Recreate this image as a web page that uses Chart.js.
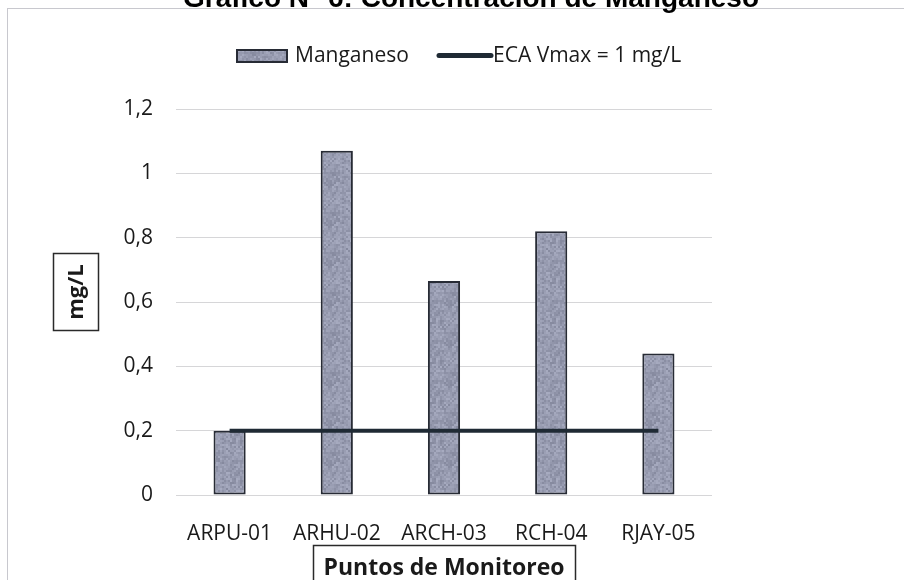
<!DOCTYPE html>
<html>
<head>
<meta charset="utf-8">
<script src="https://cdn.jsdelivr.net/npm/chart.js@4.4.1/dist/chart.umd.min.js"></script>
<style>
  html, body { margin: 0; padding: 0; background: #ffffff; }
  #wrap { width: 904px; height: 580px; position: relative; }
</style>
</head>
<body>
<div id="wrap"><canvas id="grafico" width="904" height="580"></canvas></div>
<script>
// Puntos de monitoreo y concentraciones de manganeso (mg/L)
const puntos = ['ARPU-01', 'ARHU-02', 'ARCH-03', 'RCH-04', 'RJAY-05'];
const manganeso = [0.2, 1.07, 0.665, 0.82, 0.44];
const ecaVmax = [0.2, 0.2, 0.2, 0.2, 0.2];
const nombreSerie = 'Manganeso';
const nombreLimite = 'ECA Vmax = 1 mg/L';
const tituloGrafico = 'Gráfico N° 6: Concentración de Manganeso';
const tituloEjeX = 'Puntos de Monitoreo';
const tituloEjeY = 'mg/L';

const FUENTE = '"Open Sans", "DejaVu Sans", sans-serif';
const TEXTO = '#1a1a1a';
const BORDE_BARRA = '#272b35';
const COLOR_LINEA = '#1f2a34';

// Relleno de barra con textura granulada (valores deterministas)
function rellenoGranulado() {
  const s = 40;
  const cv = document.createElement('canvas');
  cv.width = s; cv.height = s;
  const g = cv.getContext('2d');
  g.fillStyle = '#969ab0';
  g.fillRect(0, 0, s, s);
  for (let y = 0; y < s; y += 2) {
    for (let x = 0; x < s; x += 2) {
      const h = Math.sin(x * 12.9898 + y * 78.233) * 43758.5453;
      const d = Math.round(((h - Math.floor(h)) - 0.5) * 34);
      g.fillStyle = `rgb(${150 + d},${154 + d},${175 + d})`;
      g.fillRect(x, y, 2, 2);
    }
  }
  return g.createPattern(cv, 'repeat');
}
const relleno = rellenoGranulado();

function formatoTick(v) {
  const r = Math.round(v * 10) / 10;
  return String(r).replace('.', ',');
}

// Marco, título, leyenda y títulos de ejes recuadrados
const decoracion = {
  id: 'decoracion',
  beforeDraw(chart) {
    const ctx = chart.ctx;
    ctx.save();
    ctx.fillStyle = '#ffffff';
    ctx.fillRect(0, 0, chart.width, chart.height);
    ctx.strokeStyle = '#c8c8ce';
    ctx.lineWidth = 1;
    ctx.beginPath();
    ctx.moveTo(7, 8.5); ctx.lineTo(chart.width, 8.5);
    ctx.moveTo(7.5, 8); ctx.lineTo(7.5, chart.height);
    ctx.stroke();
    ctx.restore();
  },
  afterDraw(chart) {
    const ctx = chart.ctx;
    const area = chart.chartArea;
    ctx.save();

    // Título (parcialmente fuera del lienzo)
    ctx.fillStyle = '#000000';
    ctx.font = 'bold 28px "Liberation Sans", Arial, sans-serif';
    ctx.textAlign = 'center';
    ctx.textBaseline = 'alphabetic';
    ctx.fillText(tituloGrafico, 471, 7);

    // Leyenda
    const ds = chart.data.datasets;
    ctx.font = '21px ' + FUENTE;
    ctx.textAlign = 'left';
    ctx.textBaseline = 'middle';
    ctx.fillStyle = relleno;
    ctx.fillRect(236, 49, 52, 14);
    ctx.strokeStyle = BORDE_BARRA;
    ctx.lineWidth = 2;
    ctx.strokeRect(237, 50, 50, 12);
    ctx.fillStyle = TEXTO;
    ctx.fillText(ds[0].label, 295, 56);
    ctx.strokeStyle = COLOR_LINEA;
    ctx.lineWidth = 5;
    ctx.lineCap = 'round';
    ctx.beginPath();
    ctx.moveTo(439, 55.5); ctx.lineTo(491, 55.5);
    ctx.stroke();
    ctx.fillText(ds[1].label, 493, 56);

    // Título del eje Y
    ctx.lineCap = 'butt';
    ctx.strokeStyle = '#2a2a2a';
    ctx.lineWidth = 1.5;
    ctx.strokeRect(53.5, 253.5, 45, 77);
    ctx.save();
    ctx.translate(77, 292);
    ctx.rotate(-Math.PI / 2);
    ctx.font = 'bold 22px ' + FUENTE;
    ctx.textAlign = 'center';
    ctx.textBaseline = 'middle';
    ctx.fillStyle = TEXTO;
    ctx.fillText(tituloEjeY, 0, 0);
    ctx.restore();

    // Título del eje X
    const cx = (area.left + area.right) / 2;
    ctx.strokeRect(313.5, 545.5, 262, 50);
    ctx.font = 'bold 23px ' + FUENTE;
    ctx.textAlign = 'center';
    ctx.textBaseline = 'alphabetic';
    ctx.fillStyle = TEXTO;
    ctx.fillText(tituloEjeX, cx, 575);

    ctx.restore();
  }
};

new Chart(document.getElementById('grafico'), {
  data: {
    labels: puntos,
    datasets: [
      {
        type: 'bar',
        label: nombreSerie,
        data: manganeso,
        backgroundColor: relleno,
        borderColor: BORDE_BARRA,
        borderWidth: 2,
        borderSkipped: false,
        barPercentage: 0.3,
        categoryPercentage: 1,
        order: 1
      },
      {
        type: 'line',
        label: nombreLimite,
        data: ecaVmax,
        borderColor: COLOR_LINEA,
        borderWidth: 4,
        pointRadius: 0,
        pointHoverRadius: 0,
        fill: false,
        tension: 0,
        order: 0
      }
    ]
  },
  options: {
    responsive: false,
    devicePixelRatio: 1,
    animation: false,
    layout: { padding: { top: 109, right: 192, left: 0, bottom: 0 } },
    plugins: {
      legend: { display: false },
      title: { display: false },
      tooltip: { enabled: false }
    },
    scales: {
      x: {
        grid: { display: false },
        border: { display: false },
        ticks: {
          color: TEXTO,
          font: { family: FUENTE, size: 21 },
          padding: 18,
          maxRotation: 0,
          autoSkip: false
        },
        afterFit(s) { s.height = 85; }
      },
      y: {
        min: 0,
        max: 1.2,
        grid: { color: '#d6d6d8', lineWidth: 1, drawTicks: false },
        border: { display: false },
        ticks: {
          stepSize: 0.2,
          padding: 23,
          color: TEXTO,
          font: { family: FUENTE, size: 21 },
          callback: (v) => formatoTick(v)
        },
        afterFit(s) { s.width = 176; }
      }
    }
  },
  plugins: [decoracion]
});
</script>
</body>
</html>
